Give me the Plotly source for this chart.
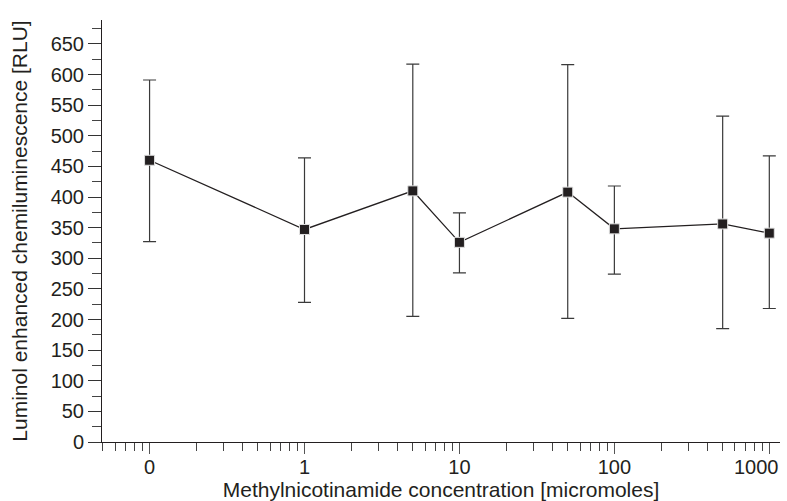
import plotly.graph_objects as go

# Data
conc_labels = ["0", "1", "5", "10", "50", "100", "500", "1000"]
conc = [0, 1, 5, 10, 50, 100, 500, 1000]
mean_rlu = [460, 347, 410, 326, 408, 348, 356, 341]
upper_rlu = [591, 464, 617, 374, 616, 418, 532, 467]
lower_rlu = [327, 228, 205, 276, 202, 274, 185, 218]

tick_vals = [0.1, 1, 10, 100, 1000]
tick_text = ["0", "1", "10", "100", ""]
last_tick_label = "1000"   # drawn nudged left so it stays inside the page, as in the reference

# zero concentration is placed at the 0.1 position of the log axis
x_pos = [0.1 if c == 0 else c for c in conc]
err_plus = [u - m for u, m in zip(upper_rlu, mean_rlu)]
err_minus = [m - l for m, l in zip(mean_rlu, lower_rlu)]

minor_vals = [k * 10 ** d for d in range(-2, 4) for k in range(2, 10)]

FONT = "Liberation Sans, Arial, Helvetica, sans-serif"
INK = "#231f20"
NB = "\u00a0"

fig = go.Figure()
fig.add_trace(go.Scatter(
    x=x_pos, y=mean_rlu, mode="lines+markers",
    line=dict(color=INK, width=1.3),
    marker=dict(symbol="square", size=10, color=INK,
                line=dict(color="#e0e0e0", width=1)),
    error_y=dict(type="data", symmetric=False, array=err_plus,
                 arrayminus=err_minus, color="#3a3a3a", thickness=1.2, width=6.5),
    showlegend=False,
    hoverinfo="skip",
))

fig.add_annotation(
    x=3, xref="x", y=0, yref="paper",
    text=last_tick_label, showarrow=False,
    xanchor="right", yanchor="top", xshift=12, yshift=-12,
    font=dict(size=20, family=FONT, color=INK),
)

fig.update_layout(
    width=787, height=501,
    margin=dict(l=102, r=7, t=20, b=59),
    paper_bgcolor="white", plot_bgcolor="white",
    font=dict(family=FONT, color=INK, size=20),
    xaxis=dict(
        type="log", range=[-1.307, 3.069],
        tickvals=tick_vals, ticktext=tick_text,
        ticks="outside", ticklen=11, tickwidth=1, tickcolor="#555",
        ticklabelstandoff=-4,
        showline=True, linecolor=INK, linewidth=1,
        showgrid=False, zeroline=False,
        tickfont=dict(size=20, family=FONT, color=INK),
        minor=dict(tickvals=minor_vals, ticks="outside", ticklen=8,
                   tickwidth=1, tickcolor="#444", showgrid=False),
        title=dict(text="Methylnicotinamide concentration [micromoles]" + NB * 4,
                   font=dict(size=21, family=FONT, color=INK), standoff=8),
        automargin=False,
    ),
    yaxis=dict(
        range=[0, 689], dtick=50, tick0=0,
        ticks="outside", ticklen=13, tickwidth=1, tickcolor="#333",
        showline=True, linecolor=INK, linewidth=1,
        showgrid=False, zeroline=False,
        tickfont=dict(size=20, family=FONT, color=INK),
        minor=dict(dtick=25, ticks="outside", ticklen=9, tickwidth=1,
                   tickcolor="#444", showgrid=False),
        title=dict(text=NB * 2 + "Luminol enhanced chemiluminescence [RLU]",
                   font=dict(size=21, family=FONT, color=INK), standoff=17),
        automargin=False,
    ),
)

fig.write_html(
    "out.html",
    config={"displayModeBar": False},
    post_script="document.body.style.margin='0';document.body.style.overflow='hidden';",
)
